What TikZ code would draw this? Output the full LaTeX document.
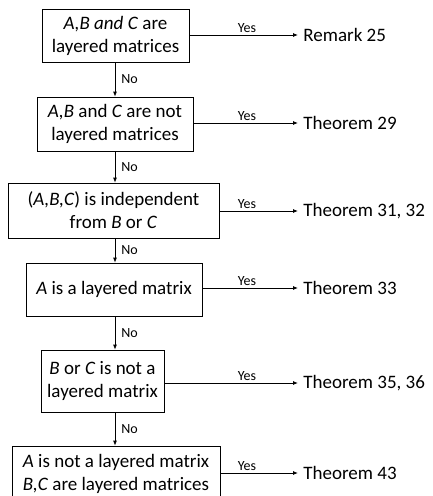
\documentclass[tikz,border=0pt]{standalone}
\usepackage{fontspec}
\setmainfont{Carlito}
\usetikzlibrary{arrows.meta}

\tikzset{
	lab/.style={font=\fontsize{14}{16}\selectfont,inner sep=2pt},
	res/.style={anchor=west,inner sep=5pt}
}

\begin{document}
\begin{tikzpicture}[x=1pt,y=-1pt,line width=0.8pt,>={Latex[length=5pt,width=4pt]},font=\fontsize{19}{23}\selectfont]

	\useasboundingbox (0,0) rectangle (433,496);
	\coordinate (trunk) at (115,0);
	\coordinate (yescol) at (247,0);

	\begin{scope}[every node/.style={draw,rectangle,align=center,inner sep=0pt}]
		\node[minimum width=147pt,minimum height=53pt] (cond1) at (115.5,35.5) {\textit{A,B and C} are\\layered matrices};
		\node[minimum width=156pt,minimum height=54pt] (cond2) at (115,124) {\textit{A,B} and \textit{C} are not\\layered matrices};
		\node[minimum width=211pt,minimum height=55pt] (cond3) at (113.5,210.5) {(\textit{A,B,C}) is independent\\from \textit{B} or \textit{C}};
		\node[minimum width=176pt,minimum height=53pt] (cond4) at (114,289.5) {\textit{A} is a layered matrix};
		\node[minimum width=123pt,minimum height=62pt] (cond5) at (102.5,381) {\textit{B} or \textit{C} is not a\\layered matrix};
		\node[minimum width=208pt,minimum height=55pt] (cond6) at (116,473.5) {\textit{A} is not a layered matrix\\\textit{B,C} are layered matrices};
	\end{scope}

	\node[res] (res1) at (298,35) {Remark 25};
	\node[res] (res2) at (298,123) {Theorem 29};
	\node[res] (res3) at (298,211) {Theorem 31, 32};
	\node[res] (res4) at (298,288) {Theorem 33};
	\node[res] (res5) at (298,383) {Theorem 35, 36};
	\node[res] (res6) at (298,473) {Theorem 43};

	\foreach \i in {1,...,6} {
		\draw[->] (cond\i.east |- res\i) -- (res\i.west);
		\node[lab,above] (yes\i) at (res\i.west -| yescol) {Yes};
	}

	\foreach \i/\j in {1/2,2/3,3/4,4/5,5/6} {
		\draw[->] (cond\i.south -| trunk) -- (cond\j.north -| trunk)
			node[lab,right,midway,inner sep=6pt] (no\i) {No};
	}

\end{tikzpicture}
\end{document}
